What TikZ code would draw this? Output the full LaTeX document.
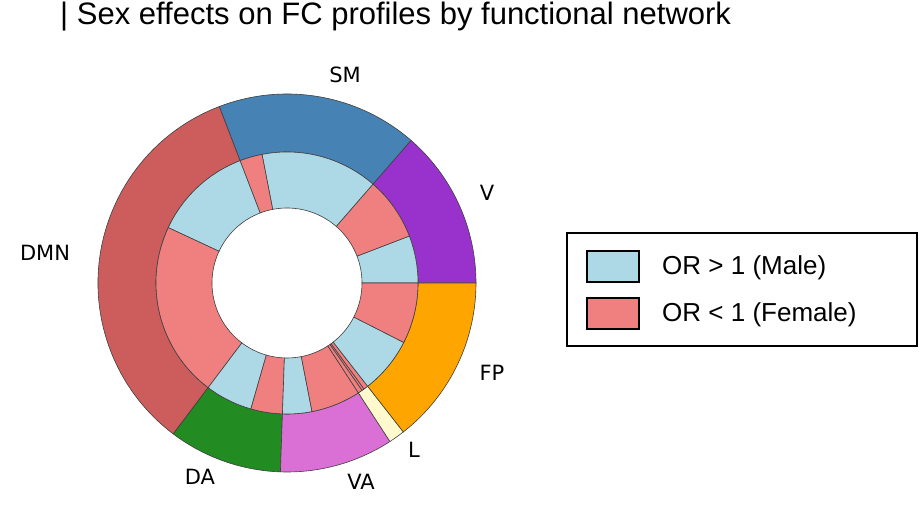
\documentclass[tikz,border=0pt]{standalone}
\usepackage{fontspec}
\setmainfont{Liberation Sans}
\newfontfamily\djv{DejaVu Sans}
\definecolor{cSM}{HTML}{4682B4}
\definecolor{cV}{HTML}{9932CC}
\definecolor{cDMN}{HTML}{CD5C5C}
\definecolor{cDA}{HTML}{228B22}
\definecolor{cVA}{HTML}{DA70D6}
\definecolor{cL}{HTML}{FFFACD}
\definecolor{cFP}{HTML}{FFA500}
\definecolor{cM}{HTML}{ADD8E6}
\definecolor{cF}{HTML}{F08080}
\newcommand\ringseg[5]{\draw[segline,fill=#5] (#1:#3) arc[start angle=#1,end angle=#2,radius=#3] -- (#2:#4) arc[start angle=#2,end angle=#1,radius=#4] -- cycle;}
\begin{document}
\begin{tikzpicture}[x=1pt,y=1pt,
  segline/.style={draw=black!75,line width=0.6pt},
  lab/.style={font=\djv\fontsize{21}{24}\selectfont,inner sep=0pt},
  leg/.style={font=\fontsize{26}{30}\selectfont,inner sep=0pt,anchor=west}]
\useasboundingbox (0,0) rectangle (924,518);
\node[inner sep=0pt,anchor=west,font=\fontsize{31}{36}\selectfont] (title) at (60,501) {| Sex effects on FC profiles by functional network};
\begin{scope}[shift={(287,235)}]
% outer ring
\ringseg{0}{49}{189}{131}{cV}
\ringseg{49}{111}{189}{131}{cSM}
\ringseg{111}{233}{189}{131}{cDMN}
\ringseg{233}{268}{189}{131}{cDA}
\ringseg{268}{303}{189}{131}{cVA}
\ringseg{303}{308}{189}{131}{cL}
\ringseg{308}{360}{189}{131}{cFP}
% inner ring
\ringseg{0}{21}{131}{75}{cM}
\ringseg{21}{49}{131}{75}{cF}
\ringseg{49}{101}{131}{75}{cM}
\ringseg{101}{111}{131}{75}{cF}
\ringseg{111}{155}{131}{75}{cM}
\ringseg{155}{233}{131}{75}{cF}
\ringseg{233}{254}{131}{75}{cM}
\ringseg{254}{268}{131}{75}{cF}
\ringseg{268}{281}{131}{75}{cM}
\ringseg{281}{303}{131}{75}{cF}
\ringseg{303}{305}{131}{75}{cF}
\ringseg{305}{306}{131}{75}{cF}
\ringseg{306}{308}{131}{75}{cF}
\ringseg{308}{333}{131}{75}{cM}
\ringseg{333}{360}{131}{75}{cF}
\end{scope}
\node[lab] (SM) at (345,443) {SM};
\node[lab] (V) at (487,325) {V};
\node[lab] (DMN) at (45,265) {DMN};
\node[lab] (FP) at (492,145) {FP};
\node[lab] (L) at (414,68) {L};
\node[lab] (DA) at (200,41) {DA};
\node[lab] (VA) at (361,36) {VA};
% legend
\draw[line width=2.5pt] (567,172) rectangle (917,285);
\draw[line width=2pt,fill=cM] (587,236) rectangle (639,267);
\draw[line width=2pt,fill=cF] (587,189) rectangle (639,220);
\node[leg] (m) at (662,250) {OR > 1 (Male)};
\node[leg] (f) at (662,203) {OR < 1 (Female)};
\end{tikzpicture}
\end{document}
